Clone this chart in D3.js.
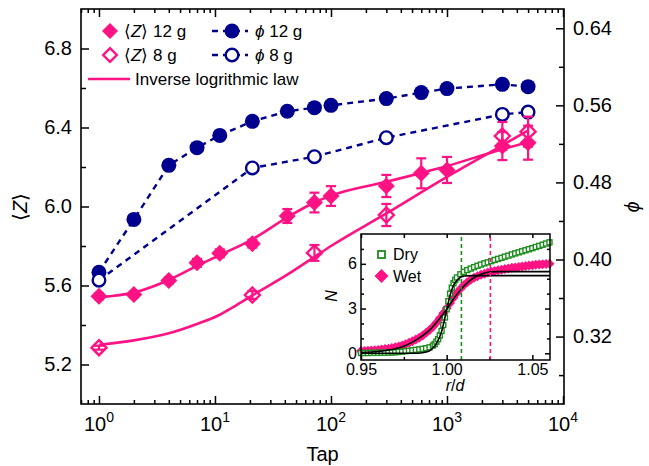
<!DOCTYPE html>
<html>
<head>
<meta charset="utf-8">
<script src="https://cdn.jsdelivr.net/npm/d3@7"></script>
<style>
  body { margin: 0; background: #fff; }
  svg { display: block; font-family: "Liberation Sans", Arial, sans-serif; }
</style>
</head>
<body>
<div id="chart"></div>
<script>
// ---- main panel data ----
var tap12 = [1, 2, 4, 7, 11, 21, 42, 72, 100, 300, 600, 1000, 3000, 5000];
var z12 = [5.545, 5.555, 5.625, 5.715, 5.763, 5.812, 5.952, 6.02, 6.053, 6.104, 6.168, 6.185, 6.306, 6.323];
var z12err = [0.015, 0.015, 0.015, 0.02, 0.02, 0.02, 0.035, 0.05, 0.05, 0.056, 0.076, 0.066, 0.071, 0.086];
var phi12 = [0.3868, 0.4416, 0.4977, 0.5161, 0.5288, 0.5434, 0.5538, 0.5576, 0.560, 0.567, 0.5732, 0.5774, 0.5818, 0.5794];

var tap8 = [1, 21, 72, 300, 3000, 5000];
var z8 = [5.285, 5.552, 5.765, 5.957, 6.357, 6.379];
var z8err = [0.01, 0.02, 0.04, 0.056, 0.071, 0.076];
var phi8 = [0.3785, 0.4950, 0.5067, 0.5264, 0.5506, 0.553];

// inverse logarithmic law fits
var fitTap12 = [1, 2, 4, 7, 11, 21, 42, 72, 100, 300, 600, 1000, 3000, 5000];
var fitZ12 = [5.540, 5.564, 5.628, 5.699, 5.754, 5.834, 5.945, 6.02, 6.055, 6.125, 6.17, 6.205, 6.29, 6.325];
var fitTap8 = [1, 2, 4, 7, 11, 15, 21, 42, 72, 100, 300, 1000, 3000, 5000];
var fitZ8 = [5.300, 5.322, 5.358, 5.405, 5.452, 5.497, 5.55, 5.655, 5.745, 5.80, 5.965, 6.15, 6.31, 6.385];

var xMajor = [1, 10, 100, 1000, 10000];
var xExp = ["0", "1", "2", "3", "4"];
var zTicks = [5.2, 5.6, 6.0, 6.4, 6.8];
var zMinor = [5.4, 5.8, 6.2, 6.6];
var phiTicks = [0.32, 0.40, 0.48, 0.56, 0.64];
var phiMinor = [0.28, 0.36, 0.44, 0.52, 0.60];

// ---- inset data ----
var dryR = [0.950, 0.952, 0.954, 0.956, 0.958, 0.960, 0.962, 0.964, 0.966, 0.968, 0.970, 0.972, 0.974, 0.976, 0.978,
  0.980, 0.982, 0.984, 0.986, 0.988, 0.990, 0.992, 0.993, 0.994, 0.995, 0.996, 0.997, 0.998, 0.999, 1.000,
  1.001, 1.002, 1.003, 1.004, 1.005, 1.006, 1.008, 1.010, 1.012, 1.014, 1.016, 1.018, 1.020, 1.022, 1.024,
  1.026, 1.028, 1.030, 1.032, 1.034, 1.036, 1.038, 1.040, 1.042, 1.044, 1.046, 1.048, 1.050, 1.052, 1.054,
  1.056, 1.058, 1.060];
var dryN = [0.02, 0.02, 0.02, 0.03, 0.03, 0.03, 0.04, 0.04, 0.05, 0.06, 0.07, 0.09, 0.11, 0.14, 0.17,
  0.20, 0.23, 0.26, 0.30, 0.34, 0.40, 0.52, 0.62, 0.78, 0.95, 1.20, 1.50, 1.90, 2.40, 2.95,
  3.50, 4.00, 4.40, 4.70, 4.92, 5.08, 5.30, 5.46, 5.58, 5.68, 5.78, 5.87, 5.95, 6.03, 6.10,
  6.18, 6.26, 6.33, 6.40, 6.48, 6.55, 6.63, 6.70, 6.77, 6.84, 6.91, 6.98, 7.05, 7.13, 7.20,
  7.28, 7.36, 7.44];

var wetR = [0.950, 0.952, 0.954, 0.956, 0.958, 0.960, 0.962, 0.964, 0.966, 0.968, 0.970, 0.972, 0.974, 0.976, 0.978,
  0.980, 0.982, 0.984, 0.986, 0.988, 0.990, 0.992, 0.994, 0.996, 0.998, 1.000, 1.002, 1.004, 1.006, 1.008,
  1.010, 1.012, 1.014, 1.016, 1.018, 1.020, 1.022, 1.024, 1.026, 1.028, 1.030, 1.032, 1.034, 1.036, 1.038,
  1.040, 1.042, 1.044, 1.046, 1.048, 1.050, 1.052, 1.054, 1.056, 1.058, 1.060];
var wetN = [0.15, 0.16, 0.17, 0.18, 0.20, 0.22, 0.25, 0.28, 0.31, 0.35, 0.40, 0.46, 0.53, 0.61, 0.70,
  0.80, 0.92, 1.05, 1.20, 1.37, 1.56, 1.78, 2.05, 2.35, 2.68, 3.02, 3.38, 3.72, 4.04, 4.32,
  4.56, 4.76, 4.93, 5.06, 5.17, 5.26, 5.34, 5.41, 5.47, 5.52, 5.57, 5.61, 5.65, 5.69, 5.73,
  5.76, 5.79, 5.82, 5.85, 5.88, 5.90, 5.93, 5.95, 5.97, 5.99, 6.01];

var dryFitR = [0.950, 0.980, 0.985, 0.988, 0.991, 0.994, 0.997, 1.000, 1.002, 1.004, 1.006, 1.008, 1.010, 1.015, 1.0603];
var dryFitN = [0.0, 0.0, 0.02, 0.08, 0.25, 0.65, 1.45, 2.90, 3.90, 4.55, 4.90, 5.10, 5.18, 5.21, 5.21];
var wetFitR = [0.950, 0.960, 0.970, 0.975, 0.980, 0.985, 0.990, 0.995, 1.000, 1.005, 1.010, 1.015, 1.020, 1.025, 1.030, 1.0603];
var wetFitN = [0.05, 0.12, 0.30, 0.48, 0.75, 1.10, 1.55, 2.20, 2.95, 3.80, 4.50, 5.00, 5.30, 5.45, 5.48, 5.48];

var dryCut = 1.0086, wetCut = 1.0255;
var rTicks = [0.95, 1.00, 1.05];
var rMinor = [0.975, 1.025];
var nTicks = [0, 3, 6];
var nMinor = [1, 2, 4, 5, 7];

var pink = "#ff1384", blue = "#00008f", green = "#1e8c1e";

var svg = d3.select("#chart").append("svg")
    .attr("width", 649)
    .attr("height", 466);

var x = d3.scaleLog().domain([0.7, 10200]).range([81, 564]);
var yZ = d3.scaleLinear().domain([5.0, 7.0]).range([404, 9]);
var yPhi = d3.scaleLinear().domain([0.25, 0.66]).range([404, 9]);

function styleAxis(g, size) {
    g.select(".domain").remove();
    g.selectAll("line").attr("stroke", "#000").attr("stroke-width", 1.5);
    g.selectAll("text").attr("font-size", size).attr("fill", "#000")
        .attr("font-family", "'Liberation Sans', Arial, sans-serif");
}

var xMinor = x.ticks().filter(function(v) { return xMajor.indexOf(v) < 0; });

// bottom + top axes
svg.append("g").attr("transform", "translate(0,404)")
    .call(d3.axisBottom(x).tickValues(xMajor).tickSize(-8).tickFormat(""))
    .call(styleAxis, 20);
svg.append("g").attr("transform", "translate(0,404)")
    .call(d3.axisBottom(x).tickValues(xMinor).tickSize(-4).tickFormat(""))
    .call(styleAxis, 20);
svg.append("g").attr("transform", "translate(0,9)")
    .call(d3.axisTop(x).tickValues(xMajor).tickSize(-8).tickFormat(""))
    .call(styleAxis, 20);
svg.append("g").attr("transform", "translate(0,9)")
    .call(d3.axisTop(x).tickValues(xMinor).tickSize(-4).tickFormat(""))
    .call(styleAxis, 20);

// x labels 10^n
var xl = svg.append("g").selectAll("text").data(xMajor).enter().append("text")
    .attr("x", function(d) { return x(d); })
    .attr("y", 431)
    .attr("text-anchor", "middle")
    .attr("font-size", 20);
xl.append("tspan").text("10");
xl.append("tspan").attr("dy", -9).attr("font-size", 14).text(function(d, i) { return xExp[i]; });

// left axis
svg.append("g").attr("transform", "translate(81,0)")
    .call(d3.axisLeft(yZ).tickValues(zTicks).tickSize(-8).tickPadding(9).tickFormat(d3.format(".1f")))
    .call(styleAxis, 20);
svg.append("g").attr("transform", "translate(81,0)")
    .call(d3.axisLeft(yZ).tickValues(zMinor).tickSize(-5).tickFormat(""))
    .call(styleAxis, 20);

// right axis
svg.append("g").attr("transform", "translate(564,0)")
    .call(d3.axisRight(yPhi).tickValues(phiTicks).tickSize(-8).tickPadding(9).tickFormat(d3.format(".2f")))
    .call(styleAxis, 20);
svg.append("g").attr("transform", "translate(564,0)")
    .call(d3.axisRight(yPhi).tickValues(phiMinor).tickSize(-5).tickFormat(""))
    .call(styleAxis, 20);

svg.append("rect")
    .attr("x", 81).attr("y", 9).attr("width", 483).attr("height", 395)
    .attr("fill", "none").attr("stroke", "#000").attr("stroke-width", 1.6);

// axis titles
svg.append("text")
    .attr("text-anchor", "middle")
    .attr("x", 322.5).attr("y", 461)
    .attr("font-size", 20)
    .text("Tap");

var zt = svg.append("text")
    .attr("text-anchor", "middle")
    .attr("transform", "translate(27,207) rotate(-90)")
    .attr("font-size", 20);
zt.append("tspan").text("\u27E8");
zt.append("tspan").attr("font-style", "italic").text("Z");
zt.append("tspan").text("\u27E9");

svg.append("text")
    .attr("text-anchor", "middle")
    .attr("transform", "translate(639,207) rotate(-90)")
    .attr("font-size", 20)
    .attr("font-style", "italic")
    .text("\u03D5");

// ---- phi series (dashed) ----
var linePhi = d3.line()
    .x(function(d) { return x(d[0]); })
    .y(function(d) { return yPhi(d[1]); });

svg.append("path")
    .datum(d3.zip(tap12, phi12))
    .attr("d", linePhi)
    .attr("fill", "none").attr("stroke", blue).attr("stroke-width", 2.4)
    .attr("stroke-dasharray", "6,5");
svg.append("path")
    .datum(d3.zip(tap8, phi8))
    .attr("d", linePhi)
    .attr("fill", "none").attr("stroke", blue).attr("stroke-width", 2.4)
    .attr("stroke-dasharray", "6,5");

svg.append("g").selectAll("circle")
    .data(d3.zip(tap12, phi12))
    .enter().append("circle")
    .attr("cx", function(d) { return x(d[0]); })
    .attr("cy", function(d) { return yPhi(d[1]); })
    .attr("r", 7.5)
    .attr("fill", blue);

svg.append("g").selectAll("circle")
    .data(d3.zip(tap8, phi8))
    .enter().append("circle")
    .attr("cx", function(d) { return x(d[0]); })
    .attr("cy", function(d) { return yPhi(d[1]); })
    .attr("r", 6.3)
    .attr("fill", "#fff").attr("stroke", blue).attr("stroke-width", 2.4);

// ---- <Z> series ----
var lineZ = d3.line()
    .x(function(d) { return x(d[0]); })
    .y(function(d) { return yZ(d[1]); })
    .curve(d3.curveMonotoneX);

svg.append("path")
    .datum(d3.zip(fitTap12, fitZ12))
    .attr("d", lineZ)
    .attr("fill", "none").attr("stroke", pink).attr("stroke-width", 2.6);
svg.append("path")
    .datum(d3.zip(fitTap8, fitZ8))
    .attr("d", lineZ)
    .attr("fill", "none").attr("stroke", pink).attr("stroke-width", 2.6);

function errorBars(tap, z, err) {
    var g = svg.append("g").attr("stroke", pink).attr("stroke-width", 2.2);
    var pts = d3.zip(tap, z, err);
    g.selectAll(".v").data(pts).enter().append("line")
        .attr("x1", function(d) { return x(d[0]); })
        .attr("x2", function(d) { return x(d[0]); })
        .attr("y1", function(d) { return yZ(d[1] - d[2]); })
        .attr("y2", function(d) { return yZ(d[1] + d[2]); });
    [-1, 1].forEach(function(s) {
        g.selectAll(".c" + s).data(pts).enter().append("line")
            .attr("x1", function(d) { return x(d[0]) - 5; })
            .attr("x2", function(d) { return x(d[0]) + 5; })
            .attr("y1", function(d) { return yZ(d[1] + s * d[2]); })
            .attr("y2", function(d) { return yZ(d[1] + s * d[2]); });
    });
}
errorBars(tap8, z8, z8err);
errorBars(tap12, z12, z12err);

function diamond(h) {
    return "M0," + (-h) + "L" + h + ",0L0," + h + "L" + (-h) + ",0Z";
}

svg.append("g").selectAll("path")
    .data(d3.zip(tap8, z8))
    .enter().append("path")
    .attr("transform", function(d) { return "translate(" + x(d[0]) + "," + yZ(d[1]) + ")"; })
    .attr("d", diamond(7.5))
    .attr("fill", "none").attr("stroke", pink).attr("stroke-width", 2.4);

svg.append("g").selectAll("path")
    .data(d3.zip(tap12, z12))
    .enter().append("path")
    .attr("transform", function(d) { return "translate(" + x(d[0]) + "," + yZ(d[1]) + ")"; })
    .attr("d", diamond(8.5))
    .attr("fill", pink);

// ---- legend ----
var leg = svg.append("g").attr("font-size", 17);
leg.append("path").attr("transform", "translate(110,31)").attr("d", diamond(8)).attr("fill", pink);
leg.append("path").attr("transform", "translate(110,55)").attr("d", diamond(6.8))
    .attr("fill", "none").attr("stroke", pink).attr("stroke-width", 2.4);
var t1 = leg.append("text").attr("x", 124).attr("y", 37);
t1.append("tspan").text("\u27E8");
t1.append("tspan").attr("font-style", "italic").text("Z");
t1.append("tspan").text("\u27E9 12 g");
var t2 = leg.append("text").attr("x", 124).attr("y", 61);
t2.append("tspan").text("\u27E8");
t2.append("tspan").attr("font-style", "italic").text("Z");
t2.append("tspan").text("\u27E9 8 g");

[31, 55].forEach(function(yy, i) {
    leg.append("line").attr("x1", 212).attr("x2", 248).attr("y1", yy).attr("y2", yy)
        .attr("stroke", blue).attr("stroke-width", 2.4).attr("stroke-dasharray", "6,5");
    leg.append("circle").attr("cx", 232).attr("cy", yy).attr("r", i === 0 ? 7.5 : 6.3)
        .attr("fill", i === 0 ? blue : "#fff").attr("stroke", i === 0 ? "none" : blue).attr("stroke-width", 2.4);
    var t = leg.append("text").attr("x", 255).attr("y", yy + 6);
    t.append("tspan").attr("font-style", "italic").text("\u03D5");
    t.append("tspan").text(i === 0 ? " 12 g" : " 8 g");
});

leg.append("line").attr("x1", 88).attr("x2", 130).attr("y1", 79).attr("y2", 79)
    .attr("stroke", pink).attr("stroke-width", 2.6);
leg.append("text").attr("x", 135).attr("y", 85).text("Inverse logrithmic law");

// ---- inset ----
var xi = d3.scaleLinear().domain([0.95, 1.0603]).range([361, 550]);
var yi = d3.scaleLinear().domain([-0.45, 8.0]).range([360, 234]);

var inset = svg.append("g");
inset.append("rect").attr("x", 361).attr("y", 234).attr("width", 189).attr("height", 126)
    .attr("fill", "#fff");

inset.append("g").attr("transform", "translate(0,360)")
    .call(d3.axisBottom(xi).tickValues(rTicks).tickSize(-5).tickPadding(4).tickFormat(d3.format(".2f")))
    .call(styleAxis, 16);
inset.append("g").attr("transform", "translate(0,360)")
    .call(d3.axisBottom(xi).tickValues(rMinor).tickSize(-3).tickFormat(""))
    .call(styleAxis, 16);
inset.append("g").attr("transform", "translate(0,234)")
    .call(d3.axisTop(xi).tickValues(rTicks.concat(rMinor)).tickSize(-4).tickFormat(""))
    .call(styleAxis, 16);
inset.append("g").attr("transform", "translate(361,0)")
    .call(d3.axisLeft(yi).tickValues(nTicks).tickSize(-5).tickPadding(4).tickFormat(d3.format("d")))
    .call(styleAxis, 16);
inset.append("g").attr("transform", "translate(361,0)")
    .call(d3.axisLeft(yi).tickValues(nMinor).tickSize(-3).tickFormat(""))
    .call(styleAxis, 16);
inset.append("g").attr("transform", "translate(550,0)")
    .call(d3.axisRight(yi).tickValues(nTicks).tickSize(-5).tickFormat(""))
    .call(styleAxis, 16);
inset.append("g").attr("transform", "translate(550,0)")
    .call(d3.axisRight(yi).tickValues(nMinor).tickSize(-3).tickFormat(""))
    .call(styleAxis, 16);

// wet then dry markers
inset.append("g").selectAll("path")
    .data(d3.zip(wetR, wetN))
    .enter().append("path")
    .attr("transform", function(d) { return "translate(" + xi(d[0]) + "," + yi(d[1]) + ")"; })
    .attr("d", diamond(5))
    .attr("fill", pink);

inset.append("g").selectAll("rect")
    .data(d3.zip(dryR, dryN))
    .enter().append("rect")
    .attr("x", function(d) { return xi(d[0]) - 2.5; })
    .attr("y", function(d) { return yi(d[1]) - 2.5; })
    .attr("width", 5).attr("height", 5)
    .attr("fill", "#fff").attr("stroke", green).attr("stroke-width", 1.4);

var lineN = d3.line()
    .x(function(d) { return xi(d[0]); })
    .y(function(d) { return yi(d[1]); })
    .curve(d3.curveMonotoneX);

inset.append("path").datum(d3.zip(wetFitR, wetFitN)).attr("d", lineN)
    .attr("fill", "none").attr("stroke", "#000").attr("stroke-width", 1.6);
inset.append("path").datum(d3.zip(dryFitR, dryFitN)).attr("d", lineN)
    .attr("fill", "none").attr("stroke", "#000").attr("stroke-width", 1.6);

[[dryCut, green], [wetCut, pink]].forEach(function(c) {
    inset.append("line")
        .attr("x1", xi(c[0])).attr("x2", xi(c[0]))
        .attr("y1", 360).attr("y2", 234)
        .attr("stroke", c[1]).attr("stroke-width", 1.6).attr("stroke-dasharray", "4,3");
});

inset.append("rect").attr("x", 361).attr("y", 234).attr("width", 189).attr("height", 126)
    .attr("fill", "none").attr("stroke", "#000").attr("stroke-width", 1.5);

// inset legend
inset.append("rect").attr("x", 378).attr("y", 251).attr("width", 7).attr("height", 7)
    .attr("fill", "#fff").attr("stroke", green).attr("stroke-width", 1.8);
inset.append("text").attr("x", 393).attr("y", 260).attr("font-size", 16).text("Dry");
inset.append("path").attr("transform", "translate(381.5,276)").attr("d", diamond(7)).attr("fill", pink);
inset.append("text").attr("x", 393).attr("y", 282).attr("font-size", 16).text("Wet");

// inset axis titles
inset.append("text")
    .attr("text-anchor", "middle")
    .attr("transform", "translate(337,296) rotate(-90)")
    .attr("font-size", 16).attr("font-style", "italic")
    .text("N");
var rd = inset.append("text")
    .attr("text-anchor", "middle")
    .attr("x", 455).attr("y", 391)
    .attr("font-size", 16);
rd.append("tspan").attr("font-style", "italic").text("r");
rd.append("tspan").text("/");
rd.append("tspan").attr("font-style", "italic").text("d");
</script>
</body>
</html>
